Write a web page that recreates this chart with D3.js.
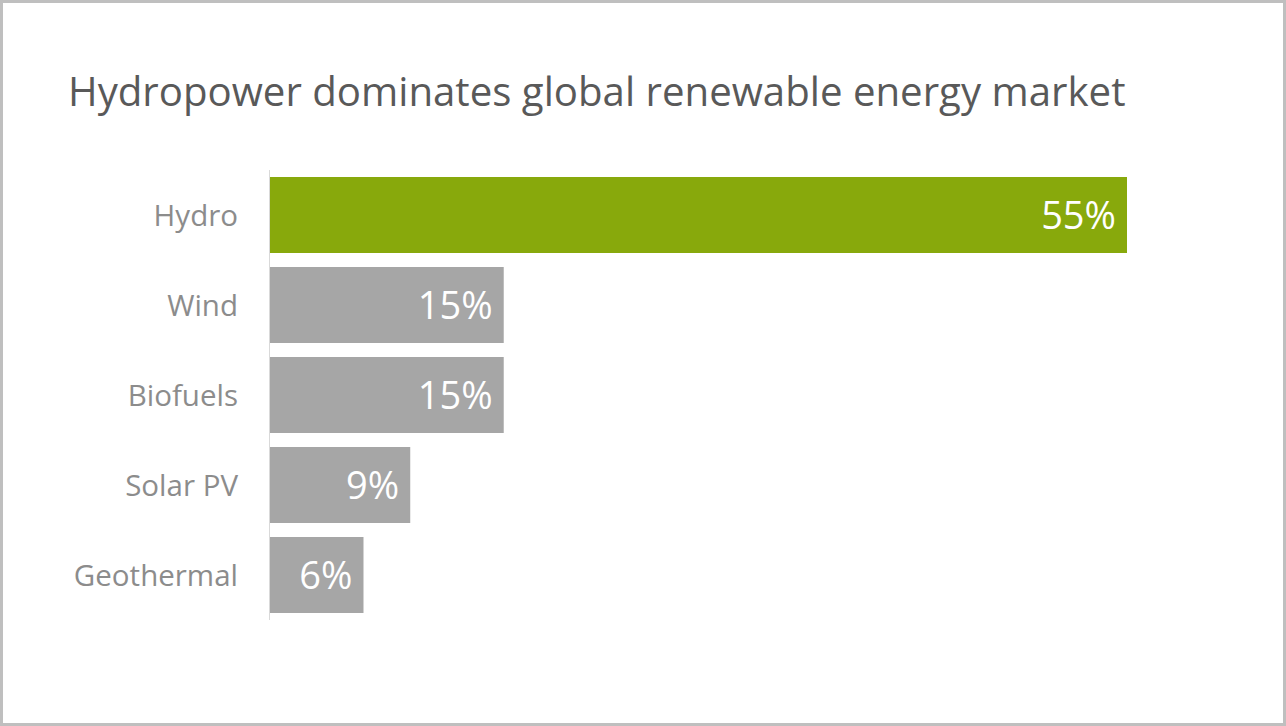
<!DOCTYPE html>
<html>
<head>
<meta charset="utf-8">
<script src="https://cdn.jsdelivr.net/npm/d3@7"></script>
<style>
  html, body { margin: 0; padding: 0; background: #fff; }
  svg { display: block; }
  text { font-family: "Open Sans", sans-serif; }
</style>
</head>
<body>
<script>
const title = "Hydropower dominates global renewable energy market";
const categories = ["Hydro", "Wind", "Biofuels", "Solar PV", "Geothermal"];
const values = [55, 15, 15, 9, 6];
const highlight = ["Hydro"];

const W = 1286, H = 726;
const svg = d3.select("body").append("svg").attr("width", W).attr("height", H);

// frame
svg.append("rect").attr("x", 1.5).attr("y", 1.5).attr("width", W - 3).attr("height", H - 3)
  .attr("fill", "#fff").attr("stroke", "#bfbfbf").attr("stroke-width", 3);

svg.append("text").attr("x", 68).attr("y", 106)
  .attr("font-size", 40.2).attr("fill", "#595959").text(title);

const x0 = 270;
const x = d3.scaleLinear().domain([0, 55]).range([x0, 1127]);
const y = d3.scaleBand().domain(categories).range([170, 620]).paddingInner(14 / 90).paddingOuter(14 / 180);

// axis line
svg.append("line").attr("x1", x0 - 0.5).attr("x2", x0 - 0.5).attr("y1", 170).attr("y2", 620)
  .attr("stroke", "#d9d9d9").attr("stroke-width", 1);

const g = svg.append("g");
g.selectAll("rect.bar").data(categories).join("rect").attr("class", "bar")
  .attr("x", x0).attr("y", d => y(d))
  .attr("width", (d, i) => x(values[i]) - x0).attr("height", y.bandwidth())
  .attr("fill", d => highlight.includes(d) ? "#88a90c" : "#a6a6a6");

g.selectAll("text.val").data(categories).join("text").attr("class", "val")
  .attr("x", (d, i) => x(values[i]) - 11).attr("y", d => y(d) + y.bandwidth() / 2)
  .attr("dy", "0.36em").attr("text-anchor", "end")
  .attr("font-size", 38).attr("fill", "#fff")
  .text((d, i) => values[i] + "%");

g.selectAll("text.cat").data(categories).join("text").attr("class", "cat")
  .attr("x", 238).attr("y", d => y(d) + y.bandwidth() / 2)
  .attr("dy", "0.36em").attr("text-anchor", "end")
  .attr("font-size", 29.5).attr("fill", "#8c8c8c")
  .text(d => d);
</script>
</body>
</html>
